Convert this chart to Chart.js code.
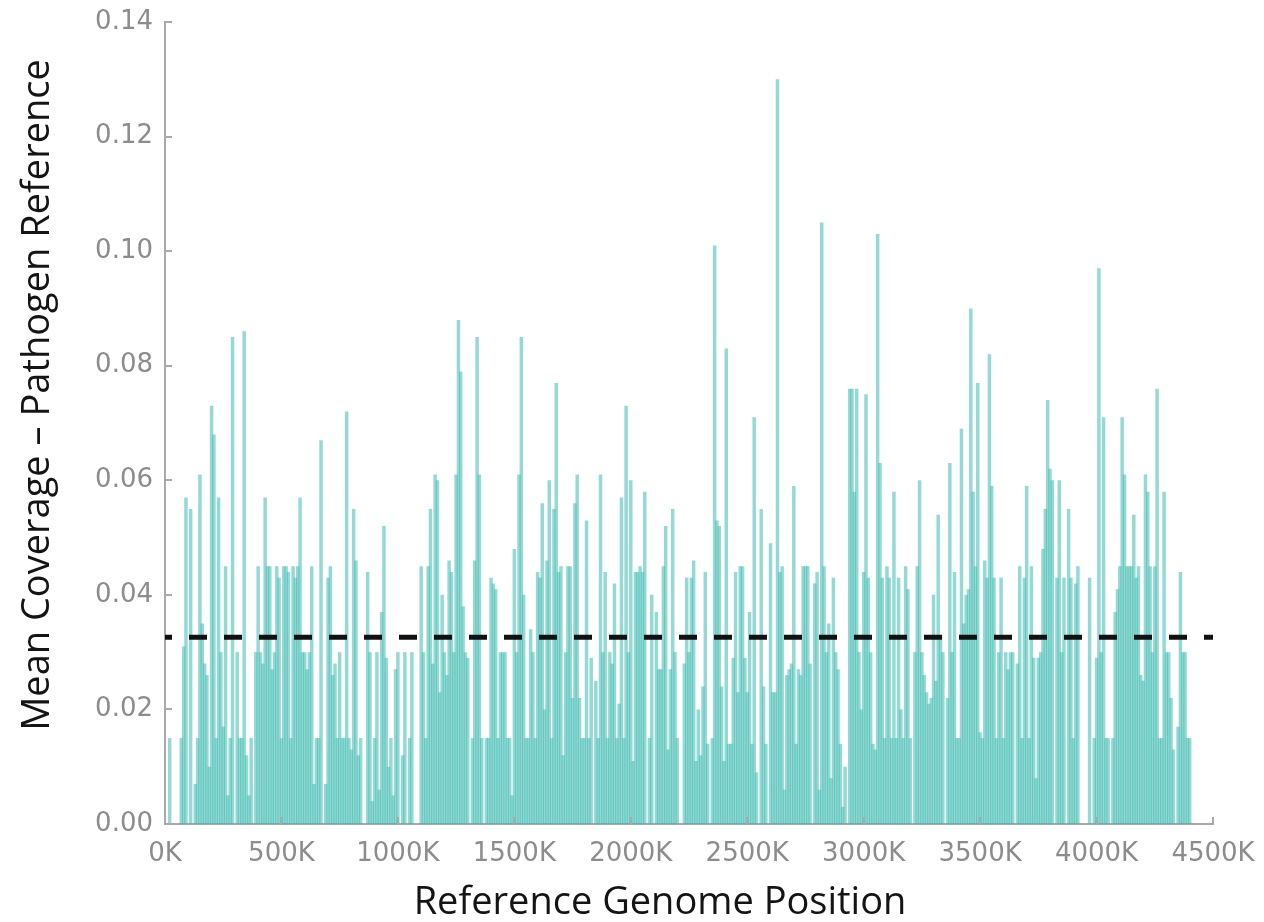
<!DOCTYPE html>
<html>
<head>
<meta charset="utf-8">
<script src="https://cdn.jsdelivr.net/npm/chart.js@4.4.0/dist/chart.umd.min.js"></script>
<style>
  html, body { margin: 0; padding: 0; background: #ffffff; }
  #wrap { width: 1264px; height: 922px; position: relative; }
</style>
</head>
<body>
<div id="wrap"><canvas id="c" width="1264" height="922"></canvas></div>
<script>
// ---- data ----
const binSizeK = 10; // each bar is a 10K window of the reference genome
const coverage = [
  0, 0, 0.015, 0, 0, 0, 0, 0.015, 0.031, 0.057,
  0, 0.055, 0, 0.007, 0.015, 0.061, 0.035, 0.028, 0.026, 0.01,
  0.073, 0.068, 0.015, 0.057, 0.03, 0.017, 0.045, 0.005, 0.015, 0.085,
  0, 0.03, 0.015, 0.015, 0.086, 0.012, 0.005, 0.015, 0, 0.03,
  0.045, 0.03, 0.028, 0.057, 0.045, 0.045, 0.027, 0.03, 0.045, 0.043,
  0.015, 0.045, 0.045, 0.044, 0.015, 0.045, 0.043, 0.045, 0.057, 0.03,
  0.03, 0.027, 0.03, 0.045, 0.007, 0.015, 0.015, 0.067, 0, 0.007,
  0.043, 0.045, 0.026, 0.028, 0.015, 0.03, 0.015, 0.015, 0.072, 0.015,
  0.013, 0.055, 0.046, 0.012, 0.015, 0, 0, 0.044, 0.03, 0.004,
  0.015, 0.03, 0.006, 0.037, 0.052, 0.029, 0.01, 0.015, 0.005, 0.027,
  0.03, 0, 0.012, 0.03, 0, 0.015, 0.03, 0, 0, 0,
  0.045, 0.03, 0.015, 0.045, 0.055, 0.028, 0.061, 0.06, 0.023, 0.04,
  0.03, 0.026, 0.046, 0.044, 0.03, 0.061, 0.088, 0.079, 0.038, 0.03,
  0.029, 0, 0.015, 0.046, 0.085, 0.061, 0.015, 0, 0.015, 0.015,
  0.043, 0.042, 0.041, 0.015, 0.03, 0.03, 0.03, 0.015, 0.015, 0.005,
  0.048, 0.03, 0.061, 0.085, 0.04, 0.015, 0.015, 0.034, 0.03, 0.015,
  0.044, 0.043, 0.056, 0.02, 0.046, 0.06, 0.015, 0.055, 0.077, 0.044,
  0.045, 0.012, 0.03, 0.045, 0.045, 0.022, 0.056, 0.061, 0.022, 0.015,
  0.015, 0.053, 0.015, 0.029, 0, 0.025, 0.015, 0.061, 0.03, 0.044,
  0.015, 0.03, 0.028, 0.042, 0.015, 0.021, 0.057, 0.015, 0.073, 0.03,
  0.06, 0.011, 0.044, 0.044, 0.045, 0.044, 0.058, 0, 0.015, 0.04,
  0, 0.037, 0.027, 0.027, 0.045, 0.052, 0.013, 0.027, 0.055, 0.03,
  0.015, 0, 0, 0.028, 0.043, 0.03, 0.043, 0.046, 0.011, 0.02,
  0.012, 0.024, 0.044, 0.014, 0, 0.015, 0.101, 0.053, 0.052, 0.024,
  0.011, 0.083, 0.014, 0.014, 0.029, 0.044, 0.023, 0.045, 0.045, 0.029,
  0.023, 0.037, 0.014, 0.071, 0.009, 0, 0.055, 0.024, 0.014, 0,
  0.049, 0.023, 0.023, 0.13, 0.044, 0.045, 0.006, 0.026, 0.027, 0.028,
  0.059, 0.014, 0.027, 0.026, 0.045, 0.045, 0.045, 0.028, 0, 0.042,
  0.044, 0.006, 0.105, 0.045, 0.03, 0.035, 0.008, 0.043, 0.03, 0.027,
  0.014, 0.003, 0.01, 0, 0.076, 0.076, 0.058, 0.076, 0.03, 0.02,
  0.044, 0.075, 0.043, 0.03, 0.014, 0.013, 0.103, 0.063, 0.043, 0.015,
  0.045, 0.043, 0.015, 0.058, 0.015, 0.043, 0.02, 0.015, 0.045, 0.041,
  0.015, 0, 0.03, 0.045, 0.06, 0.03, 0.026, 0.023, 0.021, 0.022,
  0.04, 0.025, 0.054, 0.033, 0.03, 0, 0.022, 0.063, 0.03, 0.044,
  0.015, 0.015, 0.069, 0.035, 0.04, 0.041, 0.09, 0.058, 0.045, 0.077,
  0.016, 0.015, 0.046, 0.043, 0.082, 0.059, 0.043, 0.015, 0.03, 0.043,
  0.015, 0.03, 0.027, 0.03, 0.03, 0, 0.028, 0.045, 0.015, 0.043,
  0.059, 0.015, 0.045, 0.029, 0.008, 0.029, 0.03, 0.048, 0.055, 0.074,
  0.062, 0.06, 0, 0.043, 0.06, 0.03, 0.043, 0, 0.055, 0.043,
  0.015, 0.042, 0.045, 0, 0, 0, 0, 0.043, 0, 0.015,
  0.029, 0.097, 0.03, 0.071, 0.015, 0.015, 0, 0.015, 0.037, 0.041,
  0.045, 0.071, 0.061, 0.045, 0.045, 0.045, 0.054, 0.043, 0.045, 0.026,
  0.025, 0.061, 0.058, 0.045, 0.03, 0.045, 0.076, 0.015, 0.015, 0.058,
  0.03, 0.03, 0.022, 0.013, 0, 0.017, 0.044, 0.03, 0.03, 0.015,
  0.015
];
const binStartK = coverage.map((_, i) => i * binSizeK);
const xTicksK = [0, 500, 1000, 1500, 2000, 2500, 3000, 3500, 4000, 4500];
const yTicks = [0, 0.02, 0.04, 0.06, 0.08, 0.10, 0.12, 0.14];
const meanCoverage = 0.0326;
const xTitle = 'Reference Genome Position';
const yTitle = 'Mean Coverage \u2013 Pathogen Reference';

// ---- styles ----
const BAR_COLOR = 'rgba(60,185,175,0.55)';
const AXIS_COLOR = '#a9a9a9';
const TICK_COLOR = '#8c8c8c';
const TICK_FONT = { family: 'DejaVu Sans', size: 26 };
const TITLE_FONT = '38px "Open Sans"';
const TITLE_COLOR = '#141414';

const innerTicks = {
  id: 'innerTicks',
  afterDraw(chart) {
    const { ctx, scales: { x, y } } = chart;
    ctx.save();
    ctx.strokeStyle = AXIS_COLOR;
    ctx.lineWidth = 2;
    y.ticks.forEach(t => {
      const py = Math.round(y.getPixelForValue(t.value));
      ctx.beginPath(); ctx.moveTo(x.left, py); ctx.lineTo(x.left + 7, py); ctx.stroke();
    });
    x.ticks.forEach(t => {
      const px = Math.round(x.getPixelForValue(t.value));
      ctx.beginPath(); ctx.moveTo(px, y.bottom); ctx.lineTo(px, y.bottom - 7); ctx.stroke();
    });
    ctx.restore();
  }
};

// axis titles, placed where the reference figure has them
const axisTitles = {
  id: 'axisTitles',
  afterDraw(chart) {
    const { ctx } = chart;
    ctx.save();
    ctx.fillStyle = TITLE_COLOR;
    ctx.font = TITLE_FONT;
    ctx.textAlign = 'center';
    ctx.textBaseline = 'middle';
    ctx.fillText(xTitle, 660, 903);
    ctx.translate(38, 395);
    ctx.rotate(-Math.PI / 2);
    ctx.fillText(yTitle, 0, 0);
    ctx.restore();
  }
};

new Chart(document.getElementById('c'), {
  type: 'bar',
  data: {
    datasets: [
      {
        type: 'line',
        data: [{ x: xTicksK[0], y: meanCoverage }, { x: xTicksK[xTicksK.length - 1], y: meanCoverage }],
        borderColor: '#111111',
        borderWidth: 5,
        borderDash: [18, 17],
        borderDashOffset: 11,
        pointRadius: 0,
        fill: false,
        order: 0
      },
      {
        type: 'bar',
        data: binStartK.map((k, i) => ({ x: k, y: coverage[i] })),
        backgroundColor: BAR_COLOR,
        borderWidth: 0,
        categoryPercentage: 1,
        barPercentage: 1.5,
        order: 1
      }
    ]
  },
  options: {
    responsive: false,
    animation: false,
    devicePixelRatio: 1,
    layout: { padding: { top: 22, right: 51, left: 0, bottom: 0 } },
    plugins: { legend: { display: false }, tooltip: { enabled: false } },
    scales: {
      x: {
        type: 'linear',
        min: 0,
        max: 4500,
        offset: false,
        afterBuildTicks: s => { s.ticks = xTicksK.map(v => ({ value: v })); },
        afterFit: s => { s.height = 98; },
        ticks: {
          callback: v => v + 'K',
          color: TICK_COLOR,
          font: TICK_FONT,
          padding: 7,
          maxRotation: 0,
          autoSkip: false
        },
        grid: { display: false, offset: false },
        border: { display: true, color: AXIS_COLOR, width: 2 },
        title: { display: false }
      },
      y: {
        min: 0,
        max: 0.14,
        afterBuildTicks: s => { s.ticks = yTicks.map(v => ({ value: v })); },
        afterFit: s => { s.width = 165; },
        ticks: {
          callback: v => v.toFixed(2),
          color: TICK_COLOR,
          font: TICK_FONT,
          padding: 4
        },
        grid: { display: false },
        border: { display: true, color: AXIS_COLOR, width: 2 },
        title: { display: false }
      }
    }
  },
  plugins: [innerTicks, axisTitles]
});
</script>
</body>
</html>
